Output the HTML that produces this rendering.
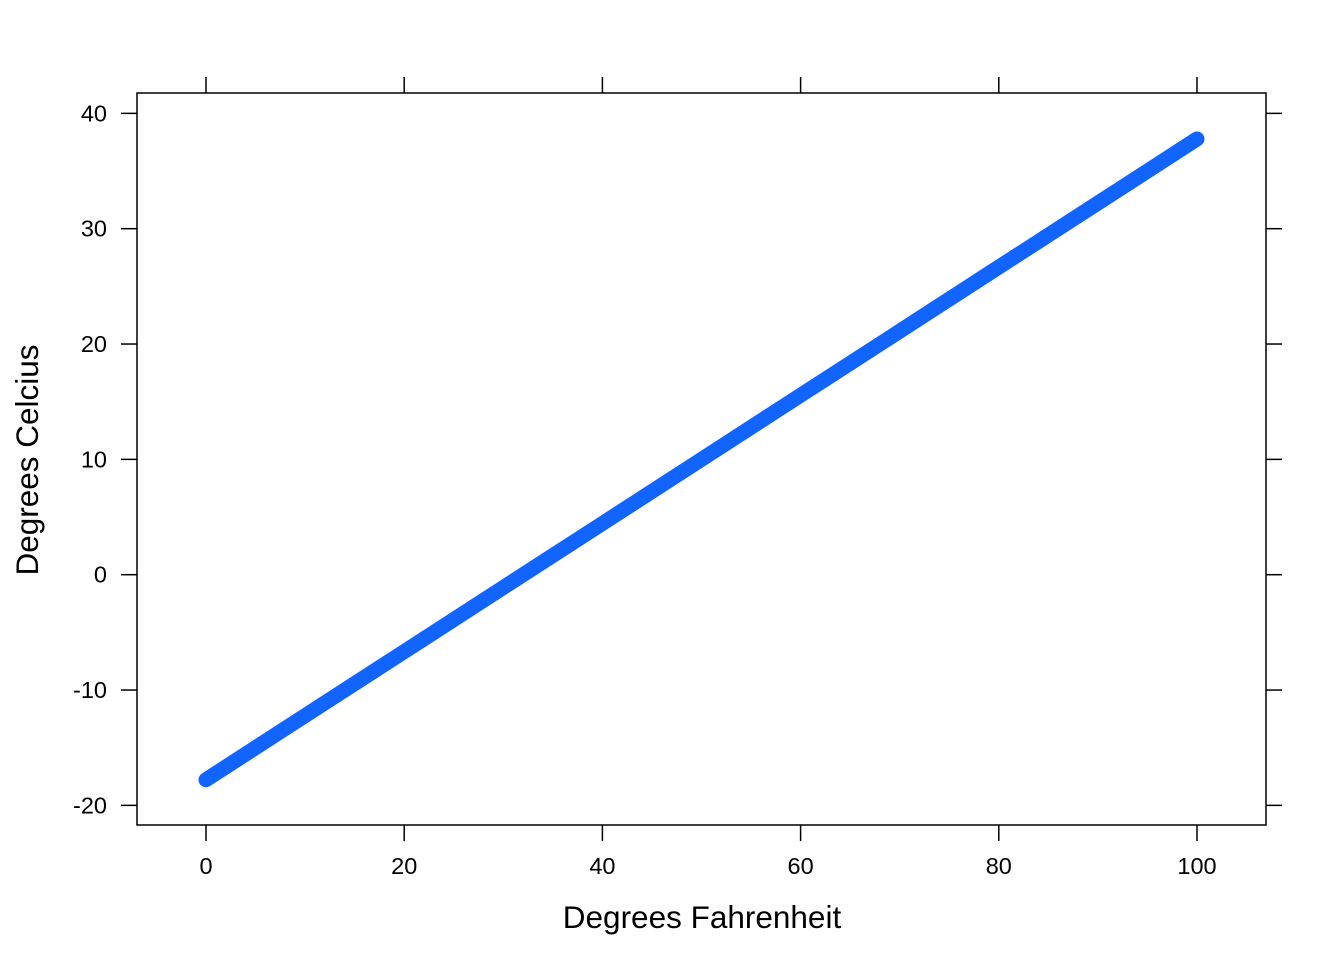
<!DOCTYPE html>
<html><head><meta charset="utf-8"><style>
html,body{margin:0;padding:0;background:#fff;}
svg{display:block;font-family:"Liberation Sans",Arial,sans-serif;}
</style></head><body>
<svg id="chart" width="1344" height="960" viewBox="0 0 1344 960">
<rect x="137" y="93" width="1129" height="732" fill="none" stroke="#000" stroke-width="1.5"/>
<g id="ticks"></g>
<g id="series"></g>
<text x="702" y="928" font-size="31.5" text-anchor="middle">Degrees Fahrenheit</text>
<text transform="translate(38,460) rotate(-90)" font-size="31.5" text-anchor="middle">Degrees Celcius</text>
</svg>
<script>
const fahrenheit = [0,10,20,30,40,50,60,70,80,90,100];
const celsius = [-17.78,-12.22,-6.67,-1.11,4.44,10,15.56,21.11,26.67,32.22,37.78];
const xTicks = [0,20,40,60,80,100];
const yTicks = [-20,-10,0,10,20,30,40];
const NS="http://www.w3.org/2000/svg";
function xs(v){return 206+(1197-206)*v/100;}
function ys(v){return 574.7-(805-113)/60*v;}
const tg=document.getElementById('ticks');
function mk(tag,attrs,parent){const e=document.createElementNS(NS,tag);for(const k in attrs)e.setAttribute(k,attrs[k]);parent.appendChild(e);return e;}
xTicks.forEach(t=>{
  const x=xs(t);
  const a=mk('line',{x1:x,x2:x,y1:825,y2:841,stroke:'#000','stroke-width':1.5},tg);
  
  
  const b=mk('line',{x1:x,x2:x,y1:93,y2:77,stroke:'#000','stroke-width':1.5},tg);
  
  
  const l=mk('text',{x:x,y:874,'font-size':23.5,'text-anchor':'middle'},tg);
  l.textContent=t;
  
  
});
yTicks.forEach(t=>{
  const y=ys(t);
  const a=mk('line',{x1:137,x2:121,y1:y,y2:y,stroke:'#000','stroke-width':1.5},tg);
  
  
  const b=mk('line',{x1:1266,x2:1282,y1:y,y2:y,stroke:'#000','stroke-width':1.5},tg);
  
  
  const l=mk('text',{x:107,y:y+8,'font-size':23.5,'text-anchor':'end'},tg);
  l.textContent=t;
  
  
});
const pts=fahrenheit.map((f,i)=>xs(f)+','+ys(celsius[i])).join(' ');
const pl=mk('polyline',{points:pts,fill:'none',stroke:'#1264ff','stroke-width':15,'stroke-linecap':'round','stroke-linejoin':'round'},document.getElementById('series'));


</script>
</body></html>
